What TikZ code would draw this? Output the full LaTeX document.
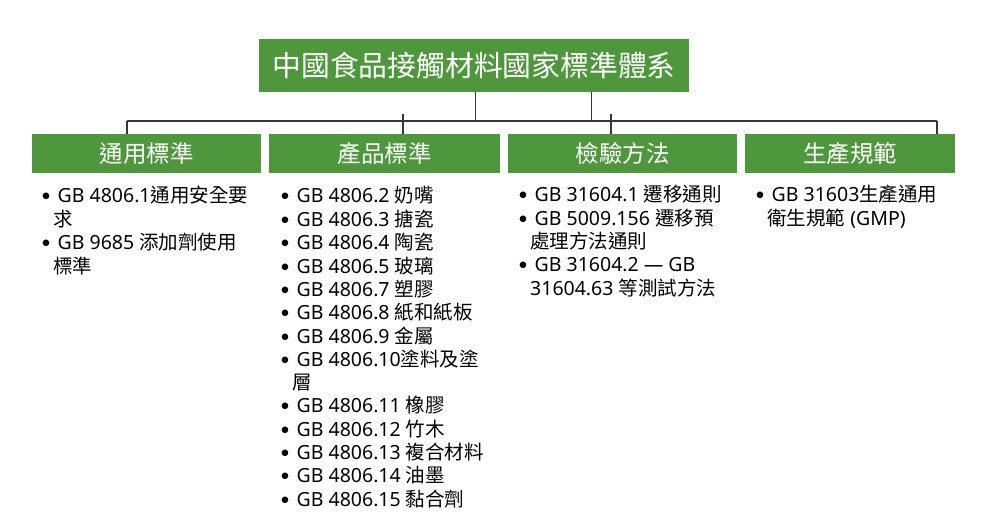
\documentclass[tikz,border=0pt]{standalone}
\usepackage{fontspec}
\setmainfont{Noto Sans CJK TC}
\newfontfamily\eng{Noto Sans}
\newfontfamily\dejavu{DejaVu Sans}
\definecolor{boxgreen}{RGB}{79,151,61}
\definecolor{connc}{RGB}{55,55,55}
\newcommand\bul{\hspace*{4.5pt}\llap{\raisebox{4pt}{\fontsize{8.5}{8.5}\selectfont\dejavu ●}\hspace{8pt}}}
\newcommand\gb[1]{{\eng #1}}
\begin{document}
\begin{tikzpicture}[x=1pt,y=-1pt,
  gbox/.style={fill=boxgreen, draw=none, inner sep=0pt, text=white},
  titlebox/.style={gbox, font=\fontsize{28.8}{34}\selectfont},
  catbox/.style={gbox, minimum height=39pt, font=\fontsize{23.5}{28}\selectfont},
  listnode/.style={inner sep=0pt, anchor=base west, font=\fontsize{19.5}{23}\selectfont},
  connline/.style={draw=connc, line width=1.1pt}]
\useasboundingbox (0,0) rectangle (997,524);

\node[titlebox, minimum width=430pt, minimum height=53pt] (root) at (474,65.5) {中國食品接觸材料國家標準體系};

\node[catbox, minimum width=229pt] (c1) at (146.5,153.5) {通用標準};
\node[catbox, minimum width=231pt] (c2) at (384.5,153.5) {產品標準};
\node[catbox, minimum width=229pt] (c3) at (622.5,153.5) {檢驗方法};
\node[catbox, minimum width=210pt] (c4) at (850,153.5) {生產規範};

\coordinate (jL) at (475.5,121);
\coordinate (jR) at (591.5,121);
\coordinate (b1) at (127,121);
\coordinate (b4) at (937,121);
\coordinate (u2) at (403,114);
\coordinate (u3) at (611,114);

\draw[connline] (root.south -| jL) -- (jL) -- (jR) -- (root.south -| jR);
\draw[connline] (b1) -- (b4);
\draw[connline] (c1.north -| b1) -- (b1);
\draw[connline] (c4.north -| b4) -- (b4);
\draw[connline] (c2.north -| u2) -- (u2);
\draw[connline] (c3.north -| u3) -- (u3);

\node[listnode] (l1) at (53,203) {\begin{tabular}[t]{@{}l@{}}
\bul\gb{GB 4806.1}通用安全要\\
求\\
\bul\gb{GB 9685 }添加劑使用\\
標準
\end{tabular}};

\node[listnode] (l2) at (292,203) {\begin{tabular}[t]{@{}l@{}}
\bul\gb{GB 4806.2 }奶嘴\\
\bul\gb{GB 4806.3 }搪瓷\\
\bul\gb{GB 4806.4 }陶瓷\\
\bul\gb{GB 4806.5 }玻璃\\
\bul\gb{GB 4806.7 }塑膠\\
\bul\gb{GB 4806.8 }紙和紙板\\
\bul\gb{GB 4806.9 }金屬\\
\bul\gb{GB 4806.10}塗料及塗\\
層\\
\bul\gb{GB 4806.11 }橡膠\\
\bul\gb{GB 4806.12 }竹木\\
\bul\gb{GB 4806.13 }複合材料\\
\bul\gb{GB 4806.14 }油墨\\
\bul\gb{GB 4806.15 }黏合劑
\end{tabular}};

\node[listnode] (l3) at (530,202) {\begin{tabular}[t]{@{}l@{}}
\bul\gb{GB 31604.1 }遷移通則\\
\bul\gb{GB 5009.156 }遷移預\\
處理方法通則\\
\bul\gb{GB 31604.2 — GB}\\
\gb{31604.63 }等測試方法
\end{tabular}};

\node[listnode] (l4) at (767,202) {\begin{tabular}[t]{@{}l@{}}
\bul\gb{GB 31603}生產通用\\
衛生規範\gb{ (GMP)}
\end{tabular}};
\end{tikzpicture}
\end{document}
